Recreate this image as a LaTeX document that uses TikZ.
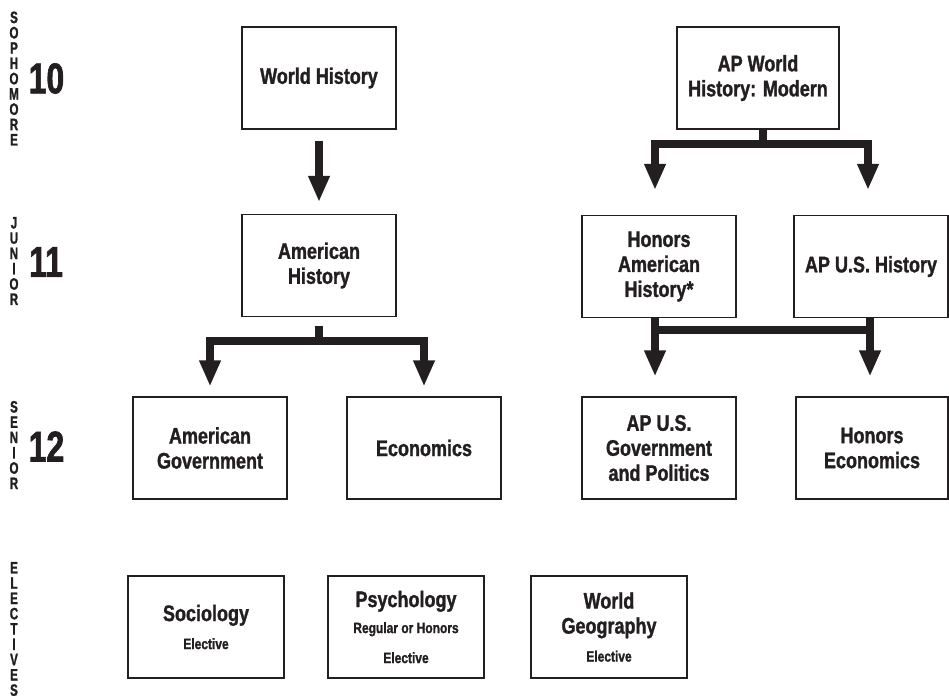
\documentclass[tikz,border=0pt]{standalone}
\usepackage{fontspec}
\setmainfont{Liberation Sans}[FakeStretch=0.8, BoldFeatures={FakeBold=1.3}]
\newfontfamily\numfont{Liberation Sans}[FakeStretch=0.74, BoldFeatures={FakeBold=1.6}]
\newfontfamily\sidefont{Liberation Sans}[FakeStretch=0.7, BoldFeatures={FakeBold=1.3}]
\usetikzlibrary{arrows.meta}
\definecolor{ink}{HTML}{231F20}
\begin{document}
\begin{tikzpicture}[x=1pt,y=-1pt,
  box/.style={draw=ink, line width=1.1pt, minimum width=154pt, minimum height=102pt,
    inner sep=0pt, align=center, text=ink, font=\bfseries\fontsize{22.5}{25}\selectfont},
  fatline/.style={draw=ink, line width=7.5pt},
  fatarrow/.style={fatline, -{Triangle[length=26pt 0 0, width=20pt 0 0]}},
  side/.style={inner sep=0pt, align=center, text=ink, font=\sidefont\bfseries\fontsize{16.5}{15.3}\selectfont},
  num/.style={inner sep=0pt, text=ink, font=\numfont\bfseries\fontsize{43}{43}\selectfont}]
\useasboundingbox (0,0) rectangle (949,699);

% side labels
\node[side] (s10) at (14,78.5) {S\\O\\P\\H\\O\\M\\O\\R\\E};
\node[num] (n10) at (46.5,78.5) {10};
\node[side] (s11) at (14,261) {J\\U\\N\\I\\O\\R};
\node[num] (n11) at (46,262) {11};
\node[side] (s12) at (14,445) {S\\E\\N\\I\\O\\R};
\node[num] (n12) at (46.5,446.5) {12};
\node[side] (sel) at (14,629) {E\\L\\E\\C\\T\\I\\V\\E\\S};

% boxes
\node[box] (wh) at (319,78) {World History};
\node[box] (ah) at (319,265.5) {American\\History};
\node[box] (ag) at (210,448) {American\\Government};
\node[box] (ec) at (424,448) {Economics};
\node[box, minimum width=162pt] (apw) at (758,78) {AP World\\History: Modern};
\node[box] (hah) at (659,266.5) {Honors\\American\\History*};
\node[box] (apush) at (871,266.5) {AP U.S. History};
\node[box] (apg) at (659,448) {AP U.S.\\Government\\and Politics};
\node[box, minimum width=152pt] (hec) at (872,448) {Honors\\Economics};

% electives
\node[box, minimum width=156pt] (soc) at (206,627) {Sociology\\[3pt]{\fontsize{15}{16}\selectfont Elective}};
\node[box, minimum width=156pt] (psy) at (406,627) {Psychology\\[1pt]{\fontsize{15}{16}\selectfont Regular or Honors}\\[5pt]{\fontsize{15}{16}\selectfont Elective}};
\node[box, minimum width=156pt] (wg) at (609,627) {World\\Geography\\[3pt]{\fontsize{15}{16}\selectfont Elective}};

% connectors
\draw[fatarrow, shorten <=11pt, shorten >=12pt] (wh) -- (ah);

\coordinate (lj) at (319,341);
\draw[fatline, shorten <=9pt] (ah.south) -- (lj);
\draw[fatline, line cap=rect] (lj -| ag.north) -- (lj -| ec.north);
\draw[fatarrow, shorten >=10pt] (lj -| ag.north) -- (ag.north);
\draw[fatarrow, shorten >=10pt] (lj -| ec.north) -- (ec.north);

\coordinate (rj) at (763,144);
\coordinate (rjL) at (655,144);
\coordinate (rjR) at (868,144);
\draw[fatline] (apw.south -| rj) -- (rj);
\draw[fatline, line cap=rect] (rjL) -- (rjR);
\draw[fatarrow, shorten >=25pt] (rjL) -- (rjL |- hah.north);
\draw[fatarrow, shorten >=25pt] (rjR) -- (rjR |- apush.north);

\coordinate (bjL) at (655,330);
\coordinate (bjR) at (870,330);
\draw[fatline] (bjL) -- (bjR);
\draw[fatarrow, shorten >=20pt] (hah.south -| bjL) -- (bjL |- apg.north);
\draw[fatarrow, shorten >=20pt] (apush.south -| bjR) -- (bjR |- hec.north);
\end{tikzpicture}
\end{document}
